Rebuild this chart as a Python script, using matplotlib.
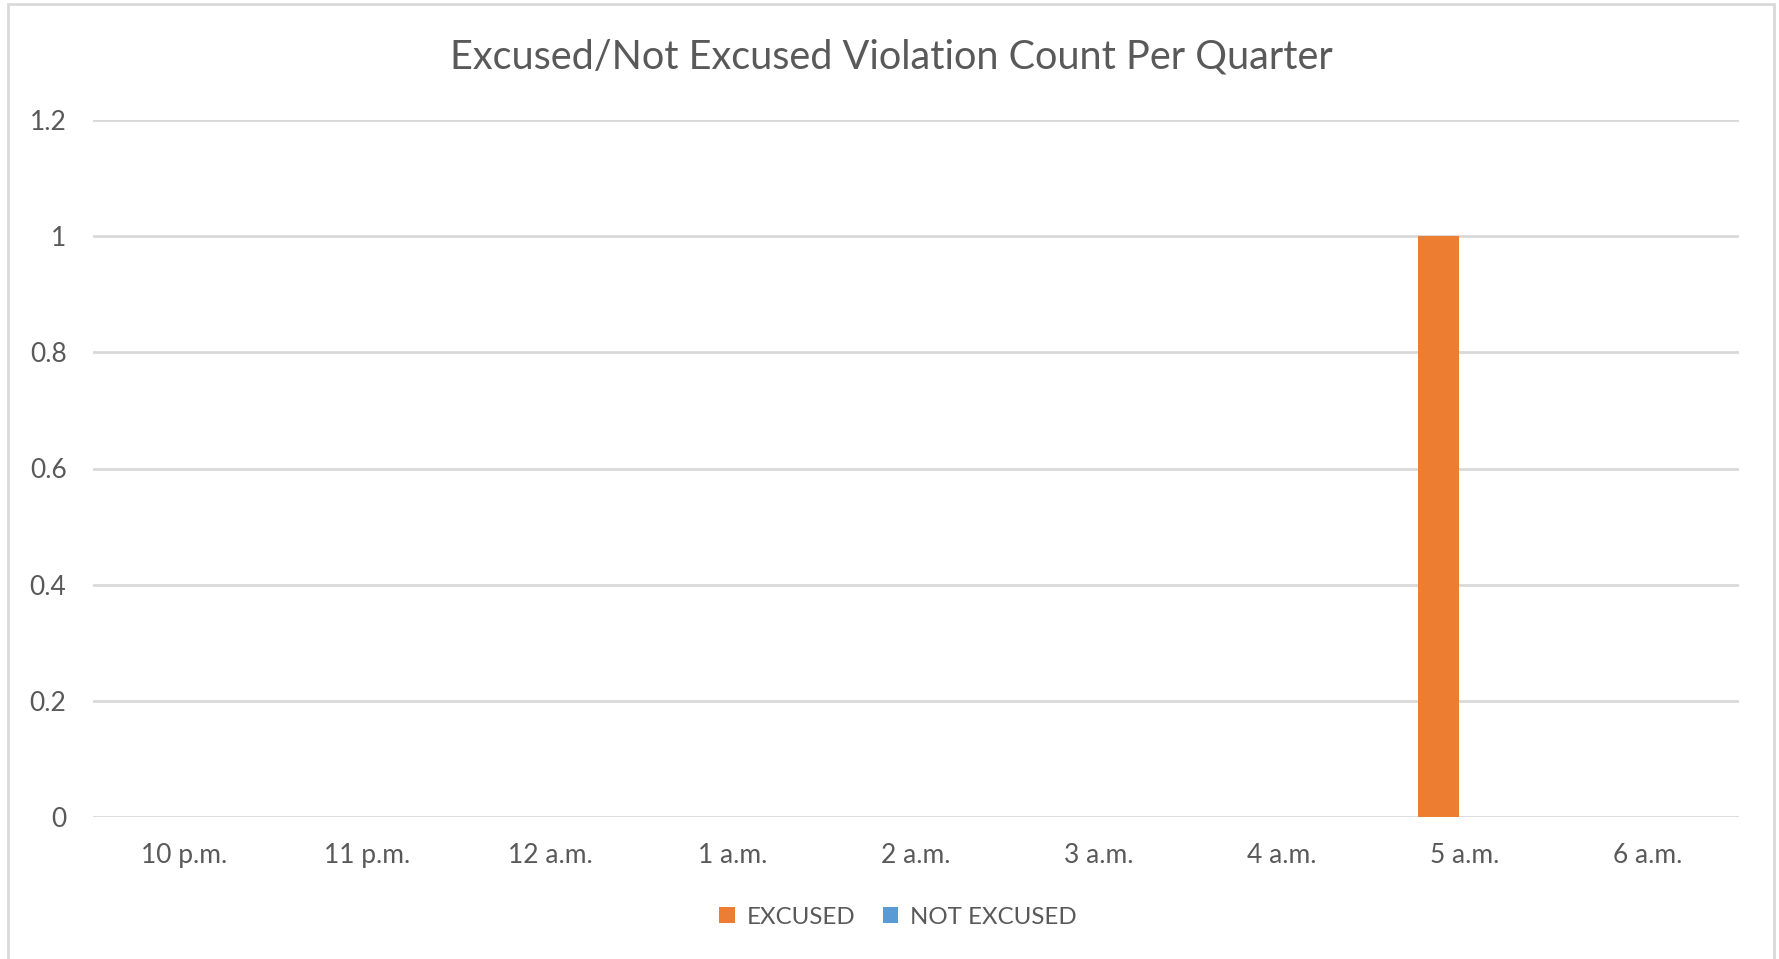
import matplotlib
matplotlib.use("Agg")
import matplotlib.pyplot as plt
import numpy as np
from matplotlib.patches import Rectangle

categories = ["10 p.m.", "11 p.m.", "12 a.m.", "1 a.m.", "2 a.m.", "3 a.m.", "4 a.m.", "5 a.m.", "6 a.m."]
excused = [0, 0, 0, 0, 0, 0, 0, 1, 0]
not_excused = [0, 0, 0, 0, 0, 0, 0, 0, 0]
series_names = ["EXCUSED", "NOT EXCUSED"]
y_ticks = [0, 0.2, 0.4, 0.6, 0.8, 1, 1.2]
y_tick_labels = ["0", "0.2", "0.4", "0.6", "0.8", "1", "1.2"]
title = "Excused/Not Excused Violation Count Per Quarter"

plt.rcParams['font.family'] = ['Lato', 'DejaVu Sans']
text_color = "#595959"
grid_color = "#D9D9D9"
orange = "#ED7D31"
blue = "#5B9BD5"

W, H = 1779, 959
fig = plt.figure(figsize=(W / 100, H / 100), dpi=100)
fig.patch.set_facecolor("white")

# chart border
fig.patches.append(Rectangle((8 / W, -0.05), (1774 - 8) / W, 1.05 - 4 / H,
                             transform=fig.transFigure, fill=False,
                             edgecolor=grid_color, linewidth=2))

ax = fig.add_axes([93 / W, 1 - 817 / H, (1739 - 93) / W, (817 - 120) / H])
x = np.arange(len(categories))
bw = 0.224
off = 0.145
ax.bar(x - off, excused, bw, color=orange, label=series_names[0], zorder=3)
ax.bar(x + off, not_excused, bw, color=blue, label=series_names[1], zorder=3)

ax.set_xlim(-0.5, len(categories) - 0.5)
ax.set_ylim(0, 1.2)
ax.set_yticks(y_ticks)
ax.set_yticklabels(y_tick_labels)
ax.set_xticks(x)
ax.set_xticklabels(categories)
ax.yaxis.grid(True, color=grid_color, linewidth=2, zorder=0)
ax.set_axisbelow(True)
for s in ax.spines.values():
    s.set_visible(False)
ax.tick_params(axis="both", length=0, colors=text_color, labelsize=19)
ax.tick_params(axis="y", pad=19)
ax.tick_params(axis="x", pad=19)
for lbl in ax.get_yticklabels():
    lbl.set_horizontalalignment("right")

fig.text(891 / W, 1 - 57 / H, title, ha="center", va="center",
         fontsize=28.5, color=text_color)

leg = fig.legend(loc="center", bbox_to_anchor=(898 / W, 1 - 917 / H), ncol=2,
                 frameon=False, fontsize=17.3, handlelength=0.65, handleheight=0.65,
                 handletextpad=0.5, columnspacing=1.15)
for t in leg.get_texts():
    t.set_color(text_color)

fig.savefig("out.png", dpi=100, facecolor="white")
